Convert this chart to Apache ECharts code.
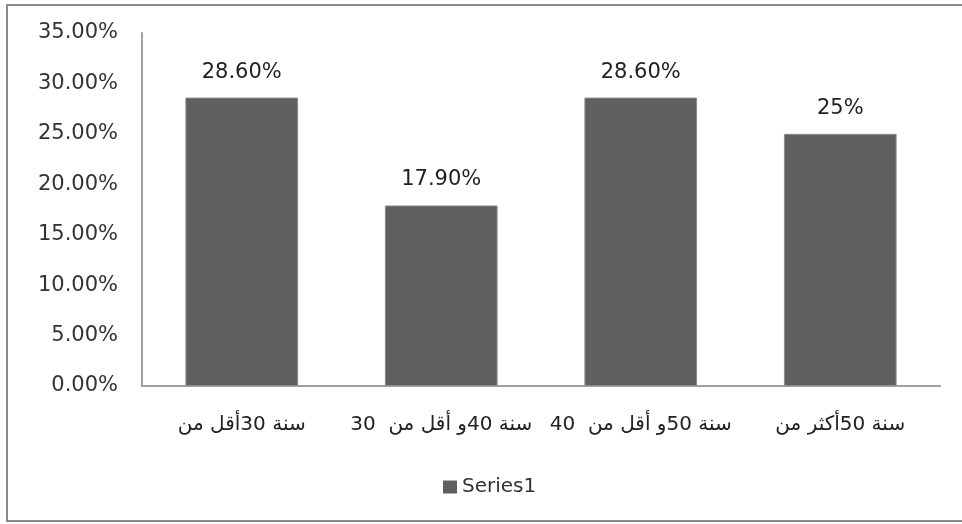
<!DOCTYPE html>
<html>
<head>
<meta charset="utf-8">
<script src="https://cdn.jsdelivr.net/npm/echarts@6/dist/echarts.min.js"></script>
<style>
html,body{margin:0;padding:0;background:#fff;}
#chart{width:962px;height:524px;}
</style>
</head>
<body>
<div id="chart"></div>
<script>
var categories = [
  'سنة 30أقل من',
  'سنة 40و أقل من  30',
  'سنة 50و أقل من  40',
  'سنة 50أكثر من'
];
var values = [28.6, 17.9, 28.6, 25];
var valueLabels = ['28.60%', '17.90%', '28.60%', '25%'];
var seriesName = 'Series1';

var chart = echarts.init(document.getElementById('chart'));
var font = '"DejaVu Sans", sans-serif';
chart.setOption({
  animation: false,
  backgroundColor: '#fff',
  graphic: [{
    type: 'polyline',
    shape: { points: [[964, 5], [7, 5], [7, 521], [964, 521]] },
    style: { stroke: '#8a8a8a', lineWidth: 2, fill: null },
    z: -1
  }],
  grid: { left: 142, right: 22, top: 33, bottom: 138 },
  legend: {
    data: [seriesName],
    bottom: 22,
    left: 438,
    icon: 'rect',
    itemWidth: 14,
    itemHeight: 13,
    itemGap: 6,
    itemStyle: { borderWidth: 0, color: '#606060' },
    textStyle: { fontFamily: font, fontSize: 20, color: '#333' }
  },
  xAxis: {
    type: 'category',
    data: categories,
    axisLine: { lineStyle: { color: '#a0a0a0', width: 2 } },
    axisTick: { show: false },
    axisLabel: { fontFamily: font, fontSize: 20, color: '#222', margin: 29, interval: 0 }
  },
  yAxis: {
    type: 'value',
    min: 0,
    max: 35,
    interval: 5,
    axisLine: { show: true, lineStyle: { color: '#a0a0a0', width: 2 } },
    axisTick: { show: false },
    splitLine: { show: false },
    axisLabel: {
      fontFamily: font, fontSize: 21, color: '#333', margin: 24,
      formatter: function (v) { return v.toFixed(2) + '%'; }
    }
  },
  series: [{
    name: seriesName,
    type: 'bar',
    data: values,
    barWidth: '56.5%',
    itemStyle: { color: '#606060', borderColor: '#8c8c8c', borderWidth: 1 },
    label: {
      show: true,
      position: 'top',
      distance: 15,
      fontFamily: font,
      fontSize: 21,
      color: '#222',
      formatter: function (p) { return valueLabels[p.dataIndex]; }
    }
  }]
});
</script>
</body>
</html>
